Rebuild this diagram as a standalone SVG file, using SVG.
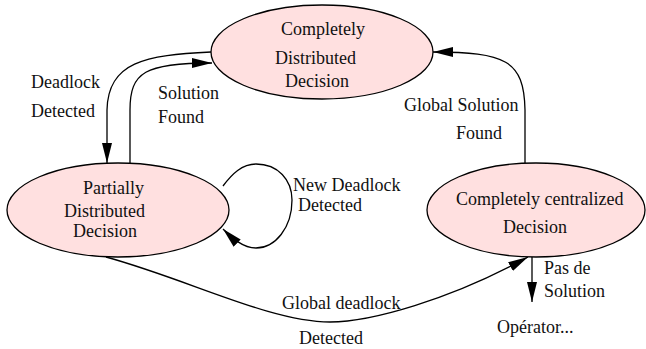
<svg xmlns="http://www.w3.org/2000/svg" width="646" height="349" viewBox="0 0 646 349">
<style>
.node ellipse{fill:#ffe0e0;stroke:#000;stroke-width:1.3}
text{font-family:"Liberation Serif","Times New Roman",serif;font-size:18px;fill:#111}
.edge{fill:none;stroke:#000;stroke-width:1.3;marker-end:url(#arr)}
</style>
<defs>
<marker id="arr" markerUnits="userSpaceOnUse" markerWidth="21" markerHeight="11" refX="20" refY="5" orient="auto">
<path d="M0,0 L20,5 L0,10 z" fill="#000"/>
</marker>
</defs>
<rect width="646" height="349" fill="#fff"/>
<g id="connectors">
<path class="edge" d="M211,52 C145,55 108,62 107,110 L107,163"/>
<path class="edge" d="M130,163 L130,110 C130,72 145,63 212,63"/>
<path class="edge" d="M525,163 L525,110 C524,60 505,52 433,52"/>
<path class="edge" d="M223,186 C232,174 242,164 256,164 C278,164 292,180 292,200 C292,228 275,248 256,248 C243,248 232,238 223,229"/>
<path class="edge" d="M106,257 C190,280 270,322 330,322 C370,322 450,300 528,257"/>
<path class="edge" d="M532,257 L532,302"/>
</g>
<g id="labels">
<text x="31" y="88">Deadlock</text>
<text x="31" y="117">Detected</text>
<text x="158" y="99">Solution</text>
<text x="158" y="123">Found</text>
<text x="404" y="111">Global Solution</text>
<text x="456" y="139">Found</text>
<text x="293" y="190.5">New Deadlock</text>
<text x="298" y="211">Detected</text>
<text x="282" y="309">Global deadlock</text>
<text x="299" y="344">Detected</text>
<text x="544" y="274">Pas de</text>
<text x="544" y="297">Solution</text>
<text x="497" y="333">Opérator...</text>
</g>
<g id="node-cdd" class="node">
<ellipse cx="322" cy="52" rx="111" ry="47"/>
<text x="281" y="35">Completely</text>
<text x="275" y="64">Distributed</text>
<text x="285" y="87">Decision</text>
</g>
<g id="node-pdd" class="node">
<ellipse cx="118" cy="210" rx="111" ry="47"/>
<text x="83" y="194">Partially</text>
<text x="64" y="217">Distributed</text>
<text x="73" y="237">Decision</text>
</g>
<g id="node-ccd" class="node">
<ellipse cx="536" cy="210" rx="109" ry="47"/>
<text x="456" y="205">Completely centralized</text>
<text x="503" y="233">Decision</text>
</g>
</svg>
